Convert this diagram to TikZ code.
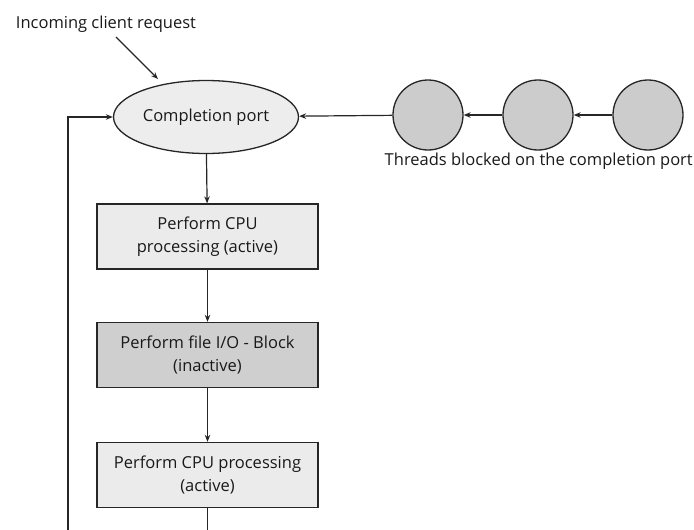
\documentclass[tikz,border=0pt]{standalone}
\usepackage{fontspec}
\setmainfont{Open Sans}
\usetikzlibrary{shapes.geometric,arrows.meta}
\begin{document}
\begin{tikzpicture}[x=1pt,y=-1pt,
  every node/.style={font=\fontsize{16.5}{23}\selectfont, text=black!90},
  conn/.style={draw=black!85, line width=1.2pt, -{Stealth[length=7pt,width=5.5pt]}},
  plain/.style={draw=black!85, line width=1.2pt},
  procbox/.style={draw=black!85, line width=1.3pt, minimum width=221pt, minimum height=65pt, inner sep=0pt, align=center},
  thread/.style={circle, draw=black!85, line width=1.3pt, fill=black!20, minimum size=70pt, inner sep=0pt}]
\useasboundingbox (0,0) rectangle (694,530);
\node (inc) at (106,24) {Incoming client request};
\node[ellipse, draw=black!85, line width=1.3pt, fill=black!7, minimum width=185pt, minimum height=73pt, inner sep=0pt] (port) at (206,117) {Completion port};
\node[thread] (t1) at (428,115) {};
\node[thread] (t2) at (538,115) {};
\node[thread] (t3) at (648,115) {};
\node[anchor=north east, inner sep=0pt] (lbl) at (693,153) {Threads blocked on the completion port};
\node[procbox, fill=black!8] (b1) at (207.5,236.5) {Perform CPU\\processing (active)};
\node[procbox, fill=black!19] (b2) at (207.5,355) {Perform file I/O - Block\\(inactive)};
\node[procbox, fill=black!8] (b3) at (207.5,475) {Perform CPU processing\\(active)};
\coordinate (cin) at (116,37);
\coordinate (bot) at (207.5,531);
\coordinate (lb) at (68,531);
\coordinate (lt) at (68,117);
\draw[conn] (cin) -- (158,79);
\draw[conn] (t1) -- (port);
\draw[conn] (t2) -- (t1);
\draw[conn] (t3) -- (t2);
\draw[conn] (port) -- (b1);
\draw[conn] (b1) -- (b2);
\draw[conn] (b2) -- (b3);
\draw[plain] (b3) -- (bot);
\draw[conn] (lb) -- (lt) -- (port.west);
\end{tikzpicture}
\end{document}
